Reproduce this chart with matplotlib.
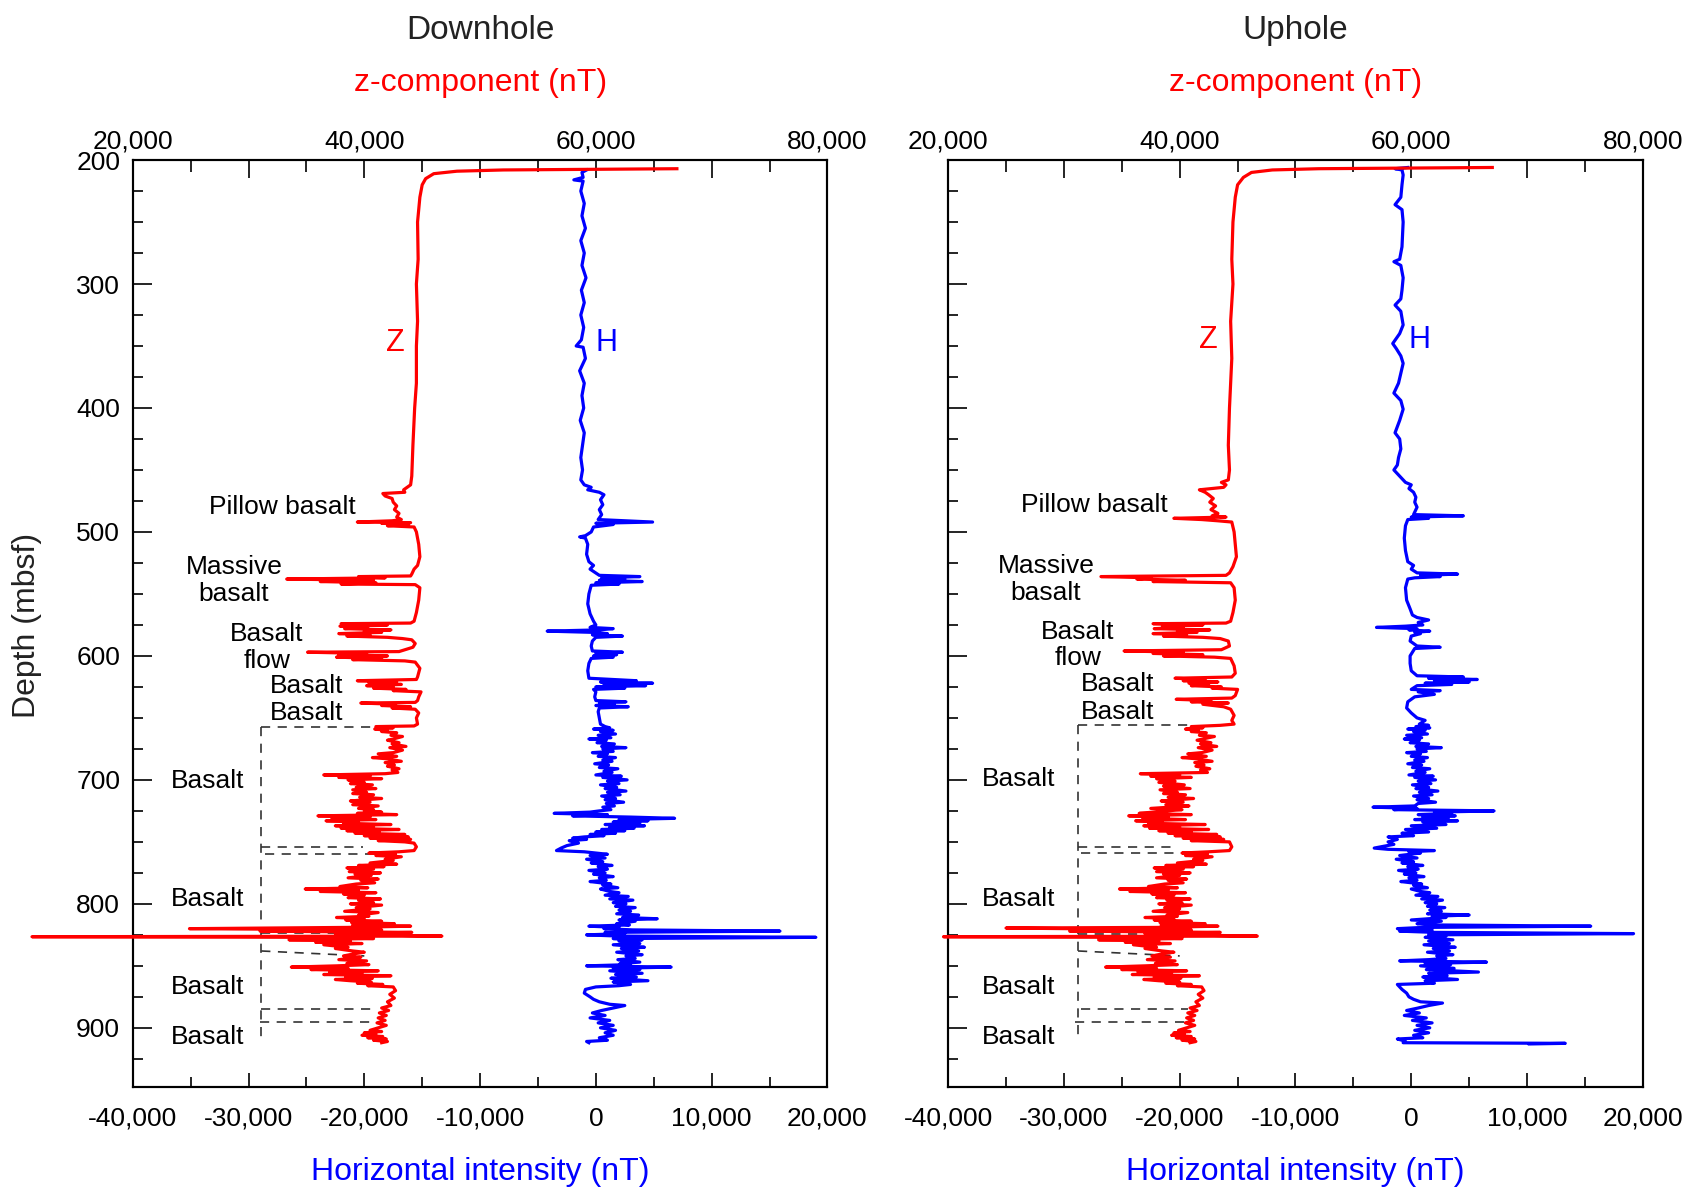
import matplotlib
matplotlib.use("Agg")
import matplotlib.pyplot as plt
import matplotlib.ticker as mticker
import numpy as np

plt.rcParams["font.family"] = ["Liberation Sans", "DejaVu Sans"]

# ---- log data: (depth mbsf, value nT) ----
# z-component values are on the top axis, H values on the bottom axis
DOWN_Z = [
    (207, 67000), (207.5, 60000), (208, 52000), (209, 48000), (211, 46000), (215, 45300),
    (220, 45000), (230, 44800), (250, 44600), (280, 44650), (300, 44500), (330, 44600),
    (350, 44500), (380, 44500), (400, 44350), (430, 44200), (455, 44100), (462, 44000),
    (464, 43700), (466, 43400), (468, 43500), (469, 41600), (471, 41800), (473, 42400),
    (476, 42500), (479, 42800), (482, 42600), (485, 43000), (488, 42800), (490, 43200),
    (491, 42400), (492, 39400), (492.5, 44000), (493, 41500), (494, 43800), (495, 42000),
    (496, 44300), (500, 44500), (510, 44700), (520, 44800), (527, 44600), (530, 44300),
    (534, 44100), (535.5, 44000), (536, 39500), (537, 41800), (538, 33300), (539, 40800),
    (540, 36200), (541, 41000), (542, 38000), (542.5, 44400), (545, 44800), (555, 44700),
    (565, 44500), (572, 44300), (573.5, 44000), (574, 38000), (575, 42000), (576, 37900),
    (577, 40300), (578, 38300), (579, 42300), (580, 40000), (581, 41500), (582, 37800),
    (583, 40500), (584, 38500), (585, 42000), (586, 43300), (587, 44100), (590, 44400),
    (593, 44200), (595, 43500), (596.5, 43000), (597, 35100), (598, 40200), (599, 37800),
    (600, 42000), (601, 37600), (602, 41500), (603, 39000), (604, 43500), (605, 44400),
    (610, 44800), (617, 44600), (619, 44500), (620, 39400), (621, 42800), (622, 40400),
    (623, 43200), (624, 40200), (625, 42500), (626, 40800), (627, 43600), (628, 42500),
    (629, 44900), (633, 44700), (636, 44600), (637.5, 44400), (638, 39700), (639, 42700),
    (640, 41500), (641, 44000), (642, 42400), (643, 44400), (646, 44700), (650, 44500),
    (655, 44600), (656.5, 44300), (657, 41000), (658, 42500), (659, 40900), (660, 42000),
    (661, 41500), (662, 42800), (664, 42300), (665, 43300), (667, 42500), (668, 42000),
    (670, 43000), (671, 42400), (673, 43600), (674, 42200), (676, 43300), (678, 42500),
    (679, 41200), (681, 42800), (682, 40700), (683, 42000), (685, 43200), (686, 41800),
    (688, 42600), (689, 42000), (691, 43000), (692, 42400), (694, 42900), (695, 41800),
    (696, 36500), (697, 40500), (698, 37800), (699, 41500), (700, 38600), (702, 40000),
    (703, 38800), (704, 40700), (706, 39300), (707, 41000), (708, 39000), (710, 40200),
    (711, 39000), (712, 40800), (714, 39600), (715, 41500), (717, 38800), (718, 40500),
    (720, 39000), (721, 41200), (723, 39500), (724, 40800), (725, 40000), (726, 41500),
    (727, 39400), (728, 42800), (729, 36000), (730, 40500), (731, 37200), (732, 41000),
    (733, 36700), (734, 39500), (735, 38200), (736, 42300), (737, 37500), (738, 40800),
    (739, 38000), (740, 43000), (741, 38500), (742, 41300), (743, 39200), (744, 43500),
    (745, 40000), (746, 43800), (747, 40500), (748, 44000), (749, 41200), (750, 43500),
    (751, 44300), (754, 44500), (757, 44300), (758, 43000), (759, 40400), (760, 42700),
    (761, 41000), (762, 43200), (764, 41800), (765, 42500), (767, 40500), (768, 42800),
    (769, 39500), (770, 41700), (771, 38500), (772, 40800), (774, 38700), (775, 41400),
    (776, 39200), (777, 40600), (779, 38600), (780, 41200), (781, 39700), (783, 40900),
    (784, 39300), (786, 37900), (787, 40300), (788, 34900), (789, 39500), (790, 36200),
    (791, 41000), (792, 38200), (793, 40000), (795, 38600), (796, 41400), (797, 39500),
    (799, 40800), (800, 38800), (801, 41500), (803, 39300), (804, 40500), (806, 38300),
    (807, 41200), (809, 39500), (810, 40400), (811, 37600), (812, 40000), (813, 38400),
    (814, 41500), (815, 38900), (816, 42600), (817, 39000), (818, 44000), (819, 38500),
    (820, 24900), (821, 41500), (822, 31000), (823, 44100), (824, 37500), (825, 40500),
    (826, 46700), (826.5, 11300), (827, 36000), (828, 40800), (829, 33500), (830, 38800),
    (831, 35800), (832, 39800), (833, 36500), (835, 38600), (836, 37500), (838, 39000),
    (839, 40000), (840, 39300), (842, 38200), (843, 39700), (845, 37800), (846, 40200),
    (848, 38500), (849, 40400), (850, 37600), (851, 33700), (852, 38600), (853, 35400),
    (854, 41200), (855, 37000), (856, 39800), (857, 36500), (858, 42300), (859, 38400),
    (860, 40700), (861, 37500), (862, 38800), (863, 40600), (864, 39400), (865, 41600),
    (866, 40300), (867, 42500), (870, 42700), (873, 42200), (876, 42600), (879, 42000),
    (882, 42300), (884, 41500), (886, 42100), (888, 41300), (890, 41900), (892, 41200),
    (894, 41800), (896, 41100), (898, 41900), (900, 41200), (902, 40500), (903, 41500),
    (904, 40000), (905, 41000), (906, 39800), (907, 41600), (908, 40300), (909, 41900),
    (910, 40800), (911, 42000), (912, 41500),
]

DOWN_H = [
    (208, -800), (210, -1200), (214, -1100), (216, -1900), (217, -1100), (225, -1300),
    (235, -1000), (245, -1200), (255, -900), (265, -1300), (275, -1000), (285, -1200),
    (295, -850), (305, -1250), (315, -1000), (325, -1300), (335, -1050), (345, -1250),
    (350, -1700), (351, -1100), (360, -900), (370, -1400), (380, -1000), (390, -1200),
    (400, -1050), (410, -1350), (420, -1000), (430, -1150), (440, -1300), (450, -1150),
    (458, -1300), (462, -1000), (464, -400), (466, -700), (468, 300), (470, 700),
    (474, 400), (478, 600), (482, 300), (486, 500), (490, 200), (492, 4900), (493, 0),
    (494, 1500), (496, -200), (500, -400), (503, -900), (504, -1400), (505, -900),
    (510, -700), (518, -800), (524, -600), (527, -200), (530, -500), (535, 300),
    (536, 3800), (537, 500), (538, 2500), (539, 300), (540, 4000), (541, 0), (542, 2000),
    (543, -400), (550, -600), (558, -700), (566, -500), (572, -200), (575, 0), (577, -500),
    (578, 1500), (579, 300), (580, -4200), (581, -200), (582, 1000), (583, -300),
    (584, 2300), (585, 0), (588, -300), (592, -400), (596, -300), (597, 2300), (598, 0),
    (599, 1800), (600, -200), (601, 1500), (602, -400), (606, -600), (612, -700),
    (618, -600), (620, 3500), (621, 400), (622, 4900), (623, 700), (624, 4300), (625, 0),
    (626, 2500), (627, -200), (629, 0), (633, -100), (636, 0), (637, 2600), (638, 300),
    (639, 1600), (640, 0), (641, 2800), (642, 300), (645, 200), (650, 300), (655, 400),
    (657, 800), (658, 1200), (659, -200), (660, 1500), (661, 400), (663, 1700), (664, 200),
    (666, 1300), (667, -600), (668, 900), (670, 100), (671, 1600), (673, 500), (674, 2600),
    (675, 600), (677, 1500), (678, -300), (679, 1000), (681, 200), (682, 1700), (684, 600),
    (685, 1400), (687, -100), (688, 1100), (690, 300), (691, 1900), (693, 700), (694, 1400),
    (696, 0), (697, 2200), (698, 600), (700, 2700), (701, 1000), (703, 2000), (704, 400),
    (706, 1800), (707, 800), (709, 2600), (710, 1000), (712, 2100), (713, 500), (715, 1700),
    (716, 800), (718, 2400), (719, 900), (721, 1600), (722, 600), (724, 1300), (725, 300),
    (726, -500), (727, -3600), (728, 1000), (729, -2000), (730, 3000), (731, 6800),
    (732, 2000), (733, 4500), (734, 1500), (735, 3800), (736, 800), (737, 4200), (738, 1200),
    (739, 3300), (740, 500), (741, 2500), (742, 0), (743, 1700), (744, -500), (745, 700),
    (746, -1000), (747, -2000), (748, -800), (749, -2300), (751, -1500), (753, -2500),
    (755, -3000), (757, -3400), (758, -1000), (759, 0), (760, 1000), (761, -500), (763, 800),
    (764, -800), (766, 600), (767, -400), (769, 1400), (770, 200), (772, 1000), (773, -600),
    (775, 800), (776, -200), (778, 1500), (779, 300), (781, 900), (782, -500), (784, 1300),
    (785, 600), (787, 1900), (788, 400), (790, 1200), (791, 2000), (793, 800), (794, 2800),
    (796, 1200), (797, 3200), (799, 1500), (800, 2600), (802, 1700), (803, 3400), (805, 2000),
    (806, 3000), (808, 1800), (809, 3700), (811, 2300), (812, 5300), (813, 2000), (814, 3400),
    (816, 1800), (817, 2900), (818, -600), (819, 2000), (820, 700), (821, 3200), (822, 15900),
    (823, 800), (824, 2500), (825, -800), (826, 2000), (827, 19000), (828, 1500), (829, 4000),
    (830, 2000), (832, 3800), (833, 1500), (835, 4200), (836, 2200), (838, 3700), (839, 1800),
    (841, 4000), (842, 2600), (844, 3400), (845, 1900), (847, 3800), (848, 2100), (849, 3000),
    (850, -800), (851, 6500), (852, 1500), (853, 3800), (854, 1200), (856, 4000), (857, 1700),
    (859, 3500), (860, 1300), (862, 4500), (863, 1500), (865, 3000), (866, 2000), (867, 0),
    (869, -900), (872, -1000), (875, -500), (877, -200), (879, 300), (881, 1200), (882, 2500),
    (884, 1500), (886, 500), (888, -300), (890, 800), (892, -500), (894, 1200), (896, 200),
    (898, 1500), (900, 400), (902, 1700), (904, 800), (906, 1500), (908, 300), (910, 1000),
    (911, -800), (912, -600),
]

UP_Z = [
    (206, 67000), (206.5, 60000), (207, 52000), (208, 48000), (210, 46200), (214, 45500),
    (220, 45000), (230, 44800), (250, 44600), (280, 44500), (300, 44600), (330, 44400),
    (360, 44500), (400, 44300), (430, 44200), (450, 44300), (458, 44200), (460, 43600),
    (462, 44000), (464, 43800), (466, 41700), (468, 42200), (470, 42500), (473, 42900),
    (476, 42600), (479, 43100), (482, 42700), (485, 43300), (487, 42800), (488, 44000),
    (489, 39500), (490, 41900), (491, 43300), (492, 44500), (500, 44700), (510, 44800),
    (520, 44900), (528, 44600), (533, 44300), (535, 44000), (536, 33200), (537, 37500),
    (538, 36300), (539, 40500), (540, 37700), (541, 44400), (545, 44700), (555, 44800),
    (565, 44600), (572, 44400), (573.5, 44000), (574, 37700), (575, 42000), (576, 38500),
    (577, 40300), (578, 37800), (579, 42600), (580, 39800), (581, 41500), (582, 37700),
    (583, 40600), (584, 38600), (585, 42000), (586, 43500), (588, 44200), (592, 44300),
    (595, 43600), (596, 35200), (597, 40300), (598, 37700), (599, 42000), (600, 38600),
    (601, 43000), (602, 44400), (608, 44700), (614, 44800), (617, 44500), (618, 39600),
    (619, 42200), (620, 40300), (621, 43300), (622, 40800), (623, 42500), (624, 41000),
    (625, 43600), (626, 42800), (627, 45000), (632, 44800), (634, 44500), (635, 39700),
    (636, 42700), (637, 41000), (638, 44200), (639, 42000), (641, 43800), (643, 44400),
    (648, 44700), (652, 44500), (655, 44700), (656, 43500), (657, 41000), (658, 42000),
    (659, 40500), (660, 41600), (661, 41000), (662, 42300), (664, 41700), (665, 43000),
    (667, 42000), (668, 41500), (670, 42700), (671, 41800), (673, 43200), (674, 41600),
    (676, 42800), (678, 41900), (679, 40700), (681, 42300), (682, 40200), (683, 41500),
    (685, 42800), (686, 41300), (688, 42100), (689, 41400), (691, 42600), (692, 41800),
    (694, 42400), (695, 36600), (696, 40000), (697, 37500), (698, 41000), (699, 38000),
    (701, 39600), (702, 38200), (704, 40400), (705, 38600), (707, 40900), (708, 38300),
    (710, 39800), (711, 38600), (712, 40500), (714, 39000), (715, 41200), (717, 38400),
    (718, 40300), (720, 38800), (721, 40800), (723, 37500), (724, 40200), (725, 38900),
    (727, 36500), (728, 41000), (729, 35600), (730, 39000), (731, 36800), (732, 40500),
    (733, 36200), (734, 38500), (735, 37300), (736, 42200), (737, 36900), (738, 40000),
    (739, 37400), (740, 42500), (741, 38200), (742, 41000), (743, 39000), (744, 43200),
    (745, 39600), (746, 43500), (747, 40300), (748, 43800), (749, 41000), (750, 44300),
    (754, 44500), (757, 44300), (758, 42500), (759, 40200), (760, 42400), (761, 40500),
    (762, 42800), (764, 41200), (765, 42000), (767, 39800), (768, 42300), (769, 38800),
    (770, 41200), (771, 37800), (772, 40300), (774, 38000), (775, 40900), (776, 38600),
    (777, 40000), (779, 38000), (780, 40600), (781, 39000), (783, 40300), (784, 38700),
    (786, 37300), (787, 39800), (788, 34800), (789, 39000), (790, 35700), (791, 40500),
    (792, 37600), (793, 39500), (795, 38000), (796, 40900), (797, 38900), (799, 40200),
    (800, 38200), (801, 41000), (803, 38700), (804, 40000), (806, 37700), (807, 40700),
    (809, 38900), (810, 39800), (811, 37000), (812, 39500), (813, 37800), (814, 41000),
    (815, 38300), (816, 42200), (817, 38400), (818, 43300), (819, 38000), (819.5, 25000),
    (821, 41000), (822, 30500), (823, 43500), (824, 37000), (825, 40000), (826, 46700),
    (826.5, 19600), (827, 35500), (828, 40200), (829, 33000), (830, 38200), (831, 35300),
    (832, 39200), (833, 36000), (835, 38000), (836, 37000), (838, 38500), (839, 39500),
    (840, 38700), (842, 37600), (843, 39200), (845, 37200), (846, 39600), (848, 37900),
    (849, 39800), (850, 37000), (851, 33600), (852, 38000), (853, 35000), (854, 40600),
    (855, 36400), (856, 39300), (857, 35900), (858, 41700), (859, 37800), (860, 40100),
    (861, 36900), (862, 38200), (863, 40000), (864, 38800), (865, 41000), (866, 39800),
    (867, 41900), (870, 42100), (873, 41600), (876, 42000), (879, 41400), (882, 41700),
    (884, 40900), (886, 41500), (888, 40700), (890, 41300), (892, 40600), (894, 41200),
    (896, 40500), (898, 41300), (900, 40600), (902, 39900), (903, 40900), (904, 39500),
    (905, 40400), (906, 39300), (907, 41000), (908, 39700), (909, 41300), (910, 40200),
    (911, 41400), (912, 40900),
]

UP_H = [
    (206, -300), (207, -1400), (208, -800), (212, -700), (220, -800), (230, -900),
    (236, -1400), (240, -800), (250, -700), (260, -750), (270, -800), (280, -1000),
    (282, -1500), (285, -900), (295, -700), (305, -800), (312, -900), (317, -1400),
    (322, -900), (333, -700), (340, -1000), (348, -1600), (352, -1300), (358, -900),
    (364, -700), (372, -900), (380, -1100), (388, -1500), (394, -900), (401, -700),
    (410, -1000), (420, -1400), (425, -1000), (433, -900), (440, -1100), (446, -1200),
    (450, -1500), (455, -1000), (460, -500), (462, 0), (465, -200), (468, 200), (472, 400),
    (476, 300), (480, 500), (484, 300), (486, 200), (487, 4500), (488, 0), (489, 1500),
    (490, -300), (495, -500), (505, -600), (515, -500), (524, -300), (527, 200), (530, 0),
    (533, 500), (534, 4000), (535, 800), (536, 2500), (537, 300), (538, -300), (545, -500),
    (555, -400), (562, -100), (567, 100), (569, 500), (571, 1500), (573, 600), (575, 1000),
    (576, -500), (577, -3000), (578, 500), (579, -200), (580, 1600), (581, 300), (582, 800),
    (584, 0), (588, -100), (592, 500), (593, 2500), (594, 300), (600, -100), (606, -100),
    (612, 0), (616, 500), (617, 4500), (618, 1500), (619, 5700), (620, 2000), (621, 5000),
    (622, 1200), (623, 3500), (624, 500), (627, 0), (628, 2500), (629, 600), (631, 2000),
    (633, 300), (637, -300), (642, -400), (646, 0), (650, 500), (652, 1200), (655, 700),
    (656, 1500), (657, 400), (658, 1600), (659, -300), (660, 1200), (661, 200), (663, 1400),
    (664, -400), (666, 900), (667, -600), (668, 700), (670, -100), (671, 1500), (673, 400),
    (674, 2600), (675, 500), (677, 1300), (678, -400), (679, 800), (681, 0), (682, 1400),
    (684, 300), (685, 1100), (687, -300), (688, 900), (690, 100), (691, 1600), (693, 400),
    (694, 1200), (696, -200), (697, 1900), (698, 300), (700, 2100), (701, 600), (703, 1700),
    (704, 100), (706, 1500), (707, 400), (709, 2300), (710, 700), (712, 1800), (713, 200),
    (715, 1500), (716, 500), (718, 2100), (719, 600), (721, 300), (722, -3300), (723, 500),
    (724, -1500), (725, 7150), (726, 2000), (727, 3500), (728, 600), (729, 3800), (730, 1000),
    (731, 3200), (732, 300), (733, 4000), (734, 1000), (736, 3000), (737, 0), (739, 2200),
    (740, -500), (742, 1500), (743, -800), (745, 200), (746, -2000), (748, -1200),
    (750, -2000), (752, -1500), (754, -2600), (755, -3200), (756, -2000), (757, 2000),
    (758, -200), (759, 800), (761, -1000), (763, 500), (764, -1300), (766, 200), (767, -800),
    (769, 1000), (770, -300), (772, 600), (773, -1100), (775, 400), (776, -600), (778, 1100),
    (779, -200), (781, 500), (782, -900), (784, 900), (785, 200), (787, 1400), (788, 0),
    (790, 800), (791, 1600), (793, 400), (794, 2300), (796, 900), (797, 2700), (799, 1200),
    (800, 2200), (802, 1400), (803, 2900), (805, 1600), (806, 2600), (808, 1400), (809, 5000),
    (810, 1800), (811, 3000), (813, 0), (814, 2600), (816, 500), (817, 2000), (818, 15500),
    (819, 1000), (820, -1200), (821, 1800), (822, -1000), (823, 2000), (824, 19200),
    (825, 1500), (826, 3000), (827, 1200), (829, 3600), (830, 1500), (832, 3300), (833, 1100),
    (835, 3800), (836, 1900), (838, 3300), (839, 1400), (841, 3600), (842, 2200), (844, 3000),
    (845, 1500), (846, -1000), (847, 6500), (848, 1200), (849, 3400), (850, 800), (852, 3700),
    (853, 1300), (855, 5800), (856, 1500), (858, 3100), (859, 1000), (861, 4000), (862, 1200),
    (864, 2000), (865, -1200), (867, -1000), (869, -800), (872, -400), (875, -200), (877, 200),
    (879, 800), (880, 2700), (882, 1500), (884, 600), (886, -400), (888, 700), (890, -600),
    (892, 1300), (894, 100), (896, 1800), (898, 500), (900, 1600), (902, 300), (904, 1500),
    (906, 200), (908, 1000), (909, -1200), (910, -800), (911, -500), (912, -700),
    (912.5, 13300), (913, 10200),
]

# dashed unit boundaries: (H start, H end, depth start, depth end)
DOWN_DASH = [
    (-28900, -28900, 657, 911), (-28900, -18700, 657, 657), (-28900, -20100, 754.5, 754.5),
    (-28600, -19600, 760, 760), (-28900, -19200, 823.5, 823.5), (-28900, -20000, 838, 842),
    (-28900, -19200, 885, 885), (-29000, -19200, 895, 895),
]
UP_DASH = [
    (-28780, -28780, 656, 911), (-28780, -18800, 656, 656), (-28780, -20200, 754, 754),
    (-28550, -19500, 759, 759), (-28780, -18800, 824, 824), (-28780, -20000, 838, 842),
    (-28550, -19300, 885, 885), (-29000, -19500, 895, 895),
]

# lithology labels: (text, H position, depth, alignment)
DOWN_LABELS = [
    ("Pillow basalt", -20720, 480, "right"), ("Massive", -31250, 528, "center"),
    ("basalt", -31250, 550, "center"), ("Basalt", -28440, 582, "center"),
    ("flow", -28440, 604, "center"), ("Basalt", -21840, 624, "right"),
    ("Basalt", -21840, 646, "right"), ("Basalt", -30400, 700.5, "right"),
    ("Basalt", -30400, 796, "right"), ("Basalt", -30400, 867, "right"),
    ("Basalt", -30400, 907, "right"),
]
UP_LABELS = [
    ("Pillow basalt", -21035, 478, "right"), ("Massive", -31560, 527.5, "center"),
    ("basalt", -31560, 549, "center"), ("Basalt", -28780, 581, "center"),
    ("flow", -28780, 602, "center"), ("Basalt", -22150, 622.5, "right"),
    ("Basalt", -22150, 645, "right"), ("Basalt", -30770, 699, "right"),
    ("Basalt", -30770, 796, "right"), ("Basalt", -30770, 867, "right"),
    ("Basalt", -30770, 907, "right"),
]

# curve tags: (H position of Z, H position of H, depth)
DOWN_TAGS = (-17300, 940, 347.5)
UP_TAGS = (-17510, 714, 345)

RED = "#ff0000"
BLUE = "#0000ff"
AX_BOTTOM, AX_HEIGHT, AX_WIDTH = 0.0855, 0.7799, 0.4108


def draw_panel(fig, left, title, z_log, h_log, dashes, labels, tags, depth_labels):
    ax = fig.add_axes([left, AX_BOTTOM, AX_WIDTH, AX_HEIGHT])
    ax.set_xlim(-40000, 20000)
    ax.set_ylim(948, 200)
    axz = ax.twiny()
    axz.set_xlim(20000, 80000)

    for x0, x1, d0, d1 in dashes:
        ax.plot([x0, x1], [d0, d1], color="#333333", lw=1.2, ls=(0, (5.5, 4.5)), zorder=1)

    h = np.array(h_log)
    ax.plot(h[:, 1], h[:, 0], color=BLUE, lw=2.3, zorder=3, clip_on=False)
    z = np.array(z_log)
    axz.plot(z[:, 1], z[:, 0], color=RED, lw=2.3, zorder=3, clip_on=False)

    for txt, xh, d, ha in labels:
        ax.text(xh, d, txt, ha=ha, va="center", fontsize=19, color="black", zorder=4)
    zx, hx, td = tags
    ax.text(zx, td, "Z", ha="center", va="center", fontsize=22, color=RED)
    ax.text(hx, td, "H", ha="center", va="center", fontsize=22, color=BLUE)

    # ticks
    ax.xaxis.set_major_locator(mticker.MultipleLocator(10000))
    ax.xaxis.set_minor_locator(mticker.MultipleLocator(5000))
    ax.xaxis.set_major_formatter(mticker.FuncFormatter(lambda v, p: f"{int(round(v)):,}"))
    ax.yaxis.set_major_locator(mticker.MultipleLocator(100))
    ax.yaxis.set_minor_locator(mticker.MultipleLocator(25))
    axz.xaxis.set_major_locator(mticker.MultipleLocator(10000))
    axz.xaxis.set_minor_locator(mticker.MultipleLocator(5000))
    axz.xaxis.set_major_formatter(mticker.FuncFormatter(
        lambda v, p: f"{int(round(v)):,}" if round(v) % 20000 == 0 else ""))

    ax.tick_params(axis="x", which="major", direction="in", length=10, width=1.2,
                   labelsize=19, pad=14, top=False)
    ax.tick_params(axis="x", which="minor", direction="in", length=7, width=1.2, top=False)
    ax.tick_params(axis="y", which="major", direction="in", length=13.5, width=1.2,
                   labelsize=19, pad=9, right=False, labelleft=depth_labels)
    ax.tick_params(axis="y", which="minor", direction="in", length=7.5, width=1.2, right=False)
    axz.tick_params(axis="x", which="major", direction="in", length=13, width=1.2,
                    labelsize=19, pad=5)
    axz.tick_params(axis="x", which="minor", direction="in", length=8.5, width=1.2)

    for a in (ax, axz):
        for sp in a.spines.values():
            sp.set_linewidth(1.5)

    ax.text(0.5, 1.1395, title, transform=ax.transAxes, ha="center", va="center",
            fontsize=24, color="#222222")
    ax.text(0.5, 1.0835, "z-component (nT)", transform=ax.transAxes, ha="center",
            va="center", fontsize=23, color=RED)
    ax.text(0.5, -0.0915, "Horizontal intensity (nT)", transform=ax.transAxes,
            ha="center", va="center", fontsize=23, color=BLUE)
    if depth_labels:
        ax.text(-0.1523, 0.498, "Depth (mbsf)", transform=ax.transAxes, rotation=90,
                ha="center", va="center", fontsize=23, color="#222222")
    return ax


fig = plt.figure(figsize=(16.91, 11.89), dpi=100)
draw_panel(fig, 0.0785, "Downhole", DOWN_Z, DOWN_H, DOWN_DASH, DOWN_LABELS, DOWN_TAGS, True)
draw_panel(fig, 0.5607, "Uphole", UP_Z, UP_H, UP_DASH, UP_LABELS, UP_TAGS, False)
fig.savefig("out.png", dpi=100, facecolor="white")
